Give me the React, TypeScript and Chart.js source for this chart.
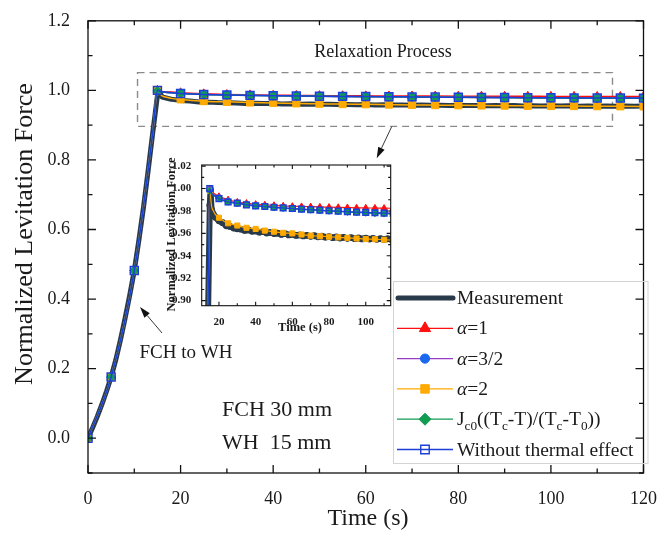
import React, { useEffect, useRef } from "react";
import { Chart, registerables } from "chart.js";

Chart.register(...registerables);

const SERIF = '"Liberation Serif", "Times New Roman", serif';

// ---------- data ----------
const MODEL_TIME = [0, 5, 10, 14, 15, 16, 17, 18, 20, 25, 30, 35, 40, 45, 50, 55, 60, 65, 70, 75, 80, 85, 90, 95, 100, 105, 110, 115, 120];
const ALPHA_1 = [0, 0.176, 0.482, 0.88, 1.0, 0.997, 0.996, 0.995, 0.993, 0.99, 0.988, 0.987, 0.986, 0.9855, 0.985, 0.9845, 0.9842, 0.984, 0.9838, 0.9836, 0.9834, 0.9832, 0.983, 0.9828, 0.9827, 0.9826, 0.9825, 0.9824, 0.9823];
const ALPHA_3_2 = [0, 0.176, 0.482, 0.88, 0.999, 0.996, 0.995, 0.994, 0.992, 0.989, 0.987, 0.986, 0.985, 0.984, 0.983, 0.9825, 0.982, 0.9815, 0.981, 0.9805, 0.98, 0.9797, 0.9793, 0.979, 0.9787, 0.9785, 0.9782, 0.978, 0.9778];
const ALPHA_2 = [0, 0.176, 0.482, 0.88, 0.998, 0.984, 0.98, 0.977, 0.974, 0.969, 0.967, 0.965, 0.964, 0.9625, 0.9615, 0.9605, 0.96, 0.959, 0.958, 0.9575, 0.957, 0.9565, 0.956, 0.9555, 0.955, 0.9548, 0.9543, 0.954, 0.9537];
const JC0_TEMP = [0, 0.176, 0.482, 0.88, 0.998, 0.995, 0.994, 0.993, 0.991, 0.988, 0.9865, 0.9855, 0.9845, 0.9838, 0.9832, 0.9826, 0.982, 0.9815, 0.981, 0.9805, 0.98, 0.9795, 0.979, 0.9786, 0.9782, 0.9778, 0.9775, 0.9772, 0.977];
const NO_THERMAL = [0, 0.176, 0.482, 0.88, 1.0, 0.996, 0.994, 0.993, 0.991, 0.988, 0.987, 0.9855, 0.9845, 0.984, 0.9833, 0.9827, 0.9822, 0.9817, 0.9812, 0.9807, 0.9802, 0.9798, 0.9794, 0.979, 0.9787, 0.9784, 0.9781, 0.9779, 0.9777];

const MEAS_TIME = [0, 1, 2, 3, 4, 5, 6, 7, 8, 9, 10, 11, 12, 13, 14, 15, 15.4, 16,
  18, 20, 22, 24, 26, 28, 30, 32, 34, 36, 38, 40, 42, 44, 46, 48, 50, 52, 54, 56, 58, 60,
  62, 64, 66, 68, 70, 72, 74, 76, 78, 80, 82, 84, 86, 88, 90, 92, 94, 96, 98, 100,
  102, 104, 106, 108, 110, 112, 114, 116, 118, 120];
const MEAS_VALUE = [0, 0.03, 0.062, 0.097, 0.135, 0.176, 0.225, 0.282, 0.344, 0.41, 0.482, 0.57, 0.665, 0.77, 0.88, 0.985, 0.999, 0.981,
  0.9745, 0.9712, 0.9695, 0.9668, 0.9662, 0.9648, 0.9641, 0.9638, 0.9626, 0.9631, 0.9619, 0.9622, 0.9611, 0.9615, 0.9603, 0.9609, 0.9598, 0.9602, 0.9591, 0.9597, 0.9586, 0.9591,
  0.9582, 0.9586, 0.9577, 0.9583, 0.9574, 0.9579, 0.9569, 0.9575, 0.9566, 0.9571, 0.9562, 0.9568, 0.9559, 0.9565, 0.9556, 0.9562, 0.9553, 0.9559, 0.9551, 0.9557,
  0.9549, 0.9555, 0.9547, 0.9553, 0.9546, 0.9552, 0.9545, 0.955, 0.9544, 0.9549];

const SERIES_LABELS = ["Measurement", "α=1", "α=3/2", "α=2", "J_{c0}((T_{c}-T)/(T_{c}-T_{0}))", "Without thermal effect"];

const MAIN_X_TICKS = [0, 20, 40, 60, 80, 100, 120];
const MAIN_X_MINOR = [10, 30, 50, 70, 90, 110];
const MAIN_Y_TICKS = [0, 0.2, 0.4, 0.6, 0.8, 1.0, 1.2];
const MAIN_Y_MINOR = [-0.1, 0.1, 0.3, 0.5, 0.7, 0.9, 1.1];
const INSET_X_TICKS = [20, 40, 60, 80, 100];
const INSET_X_MINOR = [30, 50, 70, 90, 110];
const INSET_Y_TICKS = [0.9, 0.92, 0.94, 0.96, 0.98, 1.0, 1.02];
const INSET_Y_MINOR = [0.91, 0.93, 0.95, 0.97, 0.99, 1.01];

// ---------- styling ----------
const C_MEAS = "#293a4b";
const C_RED = "#ff1010";
const C_PURPLE = "#9a3cc4";
const C_BLUEDOT = "#1a68f0";
const C_ORANGE = "#ffaa00";
const C_GREEN = "#119c52";
const C_BLUE = "#1c3fd8";

const stripMarkup = (s: string) => s.replace(/_\{([^}]*)\}/g, "$1");

function buildDatasets(inset: boolean) {
  const k = inset ? 0.72 : 1;
  const mr = (r: number) => (c: any) => (MODEL_TIME[c.dataIndex] % 5 === 0 ? r * k : 0);
  const pts = (vals: number[]) => MODEL_TIME.map((t, i) => ({ x: t, y: vals[i] }));
  const lw = inset ? 1.2 : 1.5;
  const common = { cubicInterpolationMode: "monotone" as const, borderWidth: lw, pointBorderWidth: 1 };
  return [
    {
      label: SERIES_LABELS[0],
      data: MEAS_TIME.map((t, i) => ({ x: t, y: MEAS_VALUE[i] })),
      borderColor: C_MEAS,
      backgroundColor: C_MEAS,
      borderWidth: inset ? 6 : 5,
      pointRadius: inset ? 3.4 : 0,
      pointBorderWidth: 0,
      pointBackgroundColor: C_MEAS,
      borderJoinStyle: "round" as const,
      borderCapStyle: "round" as const,
      order: 6,
    },
    {
      ...common,
      label: SERIES_LABELS[1],
      data: pts(ALPHA_1),
      borderColor: C_RED,
      pointStyle: "triangle",
      pointRadius: mr(5),
      pointBackgroundColor: C_RED,
      pointBorderColor: C_RED,
      order: 5,
    },
    {
      ...common,
      label: SERIES_LABELS[2],
      data: pts(ALPHA_3_2),
      borderColor: C_PURPLE,
      pointStyle: "circle",
      pointRadius: mr(4),
      pointBackgroundColor: C_BLUEDOT,
      pointBorderColor: C_BLUEDOT,
      order: 4,
    },
    {
      ...common,
      label: SERIES_LABELS[3],
      data: pts(ALPHA_2),
      borderColor: C_ORANGE,
      pointStyle: "rect",
      pointRadius: mr(5),
      pointBackgroundColor: C_ORANGE,
      pointBorderColor: C_ORANGE,
      order: 3,
    },
    {
      ...common,
      label: stripMarkup(SERIES_LABELS[4]),
      data: pts(JC0_TEMP),
      borderColor: C_GREEN,
      pointStyle: "rectRot",
      pointRadius: mr(4.6),
      pointBackgroundColor: C_GREEN,
      pointBorderColor: C_GREEN,
      order: 2,
    },
    {
      ...common,
      label: SERIES_LABELS[5],
      data: pts(NO_THERMAL),
      borderColor: C_BLUE,
      pointStyle: "rect",
      pointRadius: mr(5.6),
      pointBackgroundColor: "rgba(0,0,0,0)",
      pointBorderColor: C_BLUE,
      pointBorderWidth: 1.5,
      order: 1,
    },
  ];
}

type TickSpec = { xMajor: number[]; xMinor: number[]; yMajor: number[]; yMinor: number[]; majorLen: number; minorLen: number; lw: number };

function framePlugin(id: string, spec: TickSpec) {
  return {
    id,
    afterDatasetsDraw(chart: any) {
      const { ctx, chartArea: a, scales } = chart;
      const xs = scales.x;
      const ys = scales.y;
      ctx.save();
      ctx.strokeStyle = "#111";
      ctx.lineWidth = spec.lw;
      ctx.strokeRect(a.left, a.top, a.right - a.left, a.bottom - a.top);
      ctx.beginPath();
      const tx = (v: number, len: number) => {
        const p = xs.getPixelForValue(v);
        if (p < a.left - 0.5 || p > a.right + 0.5) return;
        ctx.moveTo(p, a.bottom);
        ctx.lineTo(p, a.bottom - len);
        ctx.moveTo(p, a.top);
        ctx.lineTo(p, a.top + len);
      };
      const ty = (v: number, len: number) => {
        const p = ys.getPixelForValue(v);
        if (p < a.top - 0.5 || p > a.bottom + 0.5) return;
        ctx.moveTo(a.left, p);
        ctx.lineTo(a.left + len, p);
        ctx.moveTo(a.right, p);
        ctx.lineTo(a.right - len, p);
      };
      spec.xMajor.forEach((v) => tx(v, spec.majorLen));
      spec.xMinor.forEach((v) => tx(v, spec.minorLen));
      spec.yMajor.forEach((v) => ty(v, spec.majorLen));
      spec.yMinor.forEach((v) => ty(v, spec.minorLen));
      ctx.stroke();
      ctx.restore();
    },
  };
}

function drawArrow(ctx: CanvasRenderingContext2D, x1: number, y1: number, x2: number, y2: number, hl: number, hw: number) {
  const ang = Math.atan2(y2 - y1, x2 - x1);
  const bx = x2 - Math.cos(ang) * hl;
  const by = y2 - Math.sin(ang) * hl;
  ctx.beginPath();
  ctx.moveTo(x1, y1);
  ctx.lineTo(bx, by);
  ctx.stroke();
  ctx.beginPath();
  ctx.moveTo(x2, y2);
  ctx.lineTo(bx + Math.sin(ang) * hw / 2, by - Math.cos(ang) * hw / 2);
  ctx.lineTo(bx - Math.sin(ang) * hw / 2, by + Math.cos(ang) * hw / 2);
  ctx.closePath();
  ctx.fill();
}

function drawRich(ctx: CanvasRenderingContext2D, text: string, x: number, y: number, size: number) {
  let i = 0;
  let cx = x;
  while (i < text.length) {
    if (text.startsWith("_{", i)) {
      const end = text.indexOf("}", i);
      const sub = text.slice(i + 2, end);
      ctx.font = `${size * 0.68}px ${SERIF}`;
      ctx.fillText(sub, cx, y + size * 0.3);
      cx += ctx.measureText(sub).width;
      i = end + 1;
    } else if (text[i] === "α") {
      ctx.font = `italic ${size}px ${SERIF}`;
      ctx.fillText("α", cx, y);
      cx += ctx.measureText("α").width;
      i++;
    } else {
      let j = i;
      while (j < text.length && !text.startsWith("_{", j) && text[j] !== "α") j++;
      const run = text.slice(i, j);
      ctx.font = `${size}px ${SERIF}`;
      ctx.fillText(run, cx, y);
      cx += ctx.measureText(run).width;
      i = j;
    }
  }
}

function drawMarker(ctx: CanvasRenderingContext2D, style: string, x: number, y: number, r: number, fill: string | null, stroke: string, lw: number) {
  ctx.beginPath();
  if (style === "triangle") {
    ctx.moveTo(x, y - r);
    ctx.lineTo(x + 0.866 * r, y + 0.5 * r);
    ctx.lineTo(x - 0.866 * r, y + 0.5 * r);
    ctx.closePath();
  } else if (style === "circle") {
    ctx.arc(x, y, r, 0, Math.PI * 2);
  } else if (style === "rect") {
    const s = r * Math.SQRT1_2;
    ctx.rect(x - s, y - s, 2 * s, 2 * s);
  } else if (style === "rectRot") {
    ctx.moveTo(x, y - r);
    ctx.lineTo(x + r, y);
    ctx.lineTo(x, y + r);
    ctx.lineTo(x - r, y);
    ctx.closePath();
  }
  if (fill) {
    ctx.fillStyle = fill;
    ctx.fill();
  }
  ctx.strokeStyle = stroke;
  ctx.lineWidth = lw;
  ctx.stroke();
}

const mainDecor = {
  id: "mainDecor",
  beforeDatasetsDraw(chart: any) {
    const { ctx, scales } = chart;
    const xs = scales.x;
    const ys = scales.y;
    // dashed box around relaxation region
    const l = xs.getPixelForValue(10.7);
    const r = xs.getPixelForValue(113.3);
    const t = ys.getPixelForValue(1.051);
    const b = ys.getPixelForValue(0.8966);
    ctx.save();
    ctx.strokeStyle = "#8a8a8a";
    ctx.lineWidth = 1.4;
    ctx.setLineDash([7, 5]);
    ctx.strokeRect(l, t, r - l, b - t);
    ctx.restore();
  },
  afterDraw(chart: any) {
    const { ctx } = chart;
    ctx.save();
    ctx.fillStyle = "#1a1a1a";
    // axis titles
    ctx.textAlign = "center";
    ctx.textBaseline = "middle";
    ctx.font = `24px ${SERIF}`;
    ctx.fillText("Time (s)", 368, 519);
    ctx.save();
    ctx.translate(25, 234);
    ctx.rotate(-Math.PI / 2);
    ctx.font = `26px ${SERIF}`;
    ctx.fillText("Normalized Levitation Force", 0, 0);
    ctx.restore();
    // annotations
    ctx.font = `18px ${SERIF}`;
    ctx.fillText("Relaxation Process", 383, 52);
    ctx.font = `19px ${SERIF}`;
    ctx.fillText("FCH to WH", 186, 353);
    ctx.textAlign = "left";
    ctx.font = `22px ${SERIF}`;
    ctx.fillText("FCH 30 mm", 222, 410);
    ctx.fillText("WH  15 mm", 222, 443);
    // arrows
    ctx.strokeStyle = "#222";
    ctx.fillStyle = "#111";
    ctx.lineWidth = 0.9;
    drawArrow(ctx, 391.7, 126.7, 376.7, 158.3, 11, 7);
    drawArrow(ctx, 162, 333, 140, 307, 11, 7);
    // legend box
    ctx.strokeStyle = "#d4d4d4";
    ctx.lineWidth = 1;
    ctx.strokeRect(393.5, 281.5, 254.5, 182);
    const rowY = [298, 328.3, 358.6, 388.9, 419.2, 449.5];
    const x0 = 397;
    const x1 = 453;
    const mx = 425;
    // Measurement
    ctx.strokeStyle = C_MEAS;
    ctx.lineWidth = 5;
    ctx.lineCap = "round";
    ctx.beginPath();
    ctx.moveTo(x0 + 1, rowY[0]);
    ctx.lineTo(x1, rowY[0]);
    ctx.stroke();
    ctx.lineCap = "butt";
    const rows: [string, string, string, string | null, string, number][] = [
      [C_RED, "triangle", C_RED, C_RED, C_RED, 6.5],
      [C_PURPLE, "circle", C_BLUEDOT, C_BLUEDOT, C_BLUEDOT, 4.6],
      [C_ORANGE, "rect", C_ORANGE, C_ORANGE, C_ORANGE, 6],
      [C_GREEN, "rectRot", C_GREEN, C_GREEN, C_GREEN, 6],
      [C_BLUE, "rect", C_BLUE, null, C_BLUE, 6],
    ];
    rows.forEach((row, i) => {
      const y = rowY[i + 1];
      ctx.strokeStyle = row[0];
      ctx.lineWidth = 1.3;
      ctx.beginPath();
      ctx.moveTo(x0, y);
      ctx.lineTo(x1, y);
      ctx.stroke();
      drawMarker(ctx, row[1], mx, y, row[5], row[3], row[4], i === 4 ? 1.4 : 1);
    });
    ctx.fillStyle = "#1a1a1a";
    ctx.textAlign = "left";
    ctx.textBaseline = "middle";
    SERIES_LABELS.forEach((lab, i) => drawRich(ctx, lab, 457, rowY[i] + 1, 19.5));
    ctx.restore();
  },
};

const insetDecor = {
  id: "insetDecor",
  afterDraw(chart: any) {
    const { ctx } = chart;
    ctx.save();
    ctx.fillStyle = "#1a1a1a";
    ctx.textAlign = "center";
    ctx.textBaseline = "middle";
    ctx.font = `bold 12.5px ${SERIF}`;
    ctx.fillText("Time (s)", 140, 178);
    ctx.translate(12, 84.5);
    ctx.rotate(-Math.PI / 2);
    ctx.fillText("Normalized Levitation Force", 0, 0);
    ctx.restore();
  },
};

function setTicks(list: number[]) {
  return (s: any) => {
    s.ticks = list.map((v) => ({ value: v }));
  };
}

export default function App() {
  const mainRef = useRef<HTMLCanvasElement | null>(null);
  const insetRef = useRef<HTMLCanvasElement | null>(null);

  useEffect(() => {
    if (!mainRef.current || !insetRef.current) return;
    const mainChart = new Chart(mainRef.current, {
      type: "line",
      data: { datasets: buildDatasets(false) as any },
      options: {
        responsive: false,
        animation: false,
        events: [],
        layout: { padding: { left: 0, top: 20, right: 15, bottom: 0 } },
        plugins: { legend: { display: false }, tooltip: { enabled: false } },
        scales: {
          x: {
            type: "linear",
            min: 0,
            max: 120,
            grid: { display: false },
            border: { display: false },
            afterBuildTicks: setTicks(MAIN_X_TICKS),
            afterFit: (s: any) => {
              s.height = 61;
            },
            ticks: { font: { family: SERIF, size: 18 }, color: "#1a1a1a", padding: 7, maxRotation: 0, autoSkip: false, callback: (v: any) => String(v) },
          },
          y: {
            type: "linear",
            min: -0.1,
            max: 1.2,
            grid: { display: false },
            border: { display: false },
            afterBuildTicks: setTicks(MAIN_Y_TICKS),
            afterFit: (s: any) => {
              s.width = 88;
            },
            ticks: { font: { family: SERIF, size: 18 }, color: "#1a1a1a", padding: 10, autoSkip: false, callback: (v: any) => Number(v).toFixed(1) },
          },
        },
      },
      plugins: [
        mainDecor,
        framePlugin("mainFrame", { xMajor: MAIN_X_TICKS, xMinor: MAIN_X_MINOR, yMajor: MAIN_Y_TICKS, yMinor: MAIN_Y_MINOR, majorLen: 8, minorLen: 4.5, lw: 1.3 }),
      ],
    });

    const insetChart = new Chart(insetRef.current, {
      type: "line",
      data: { datasets: buildDatasets(true) as any },
      options: {
        responsive: false,
        animation: false,
        events: [],
        layout: { padding: { left: 0, top: 15, right: 9.3, bottom: 0 } },
        plugins: { legend: { display: false }, tooltip: { enabled: false } },
        scales: {
          x: {
            type: "linear",
            min: 10.6,
            max: 113.6,
            grid: { display: false },
            border: { display: false },
            afterBuildTicks: setTicks(INSET_X_TICKS),
            afterFit: (s: any) => {
              s.height = 34.3;
            },
            ticks: { font: { family: SERIF, size: 11, weight: "bold" }, color: "#1a1a1a", padding: 2, maxRotation: 0, autoSkip: false, callback: (v: any) => String(v) },
          },
          y: {
            type: "linear",
            min: 0.8955,
            max: 1.021,
            grid: { display: false },
            border: { display: false },
            afterBuildTicks: setTicks(INSET_Y_TICKS),
            afterFit: (s: any) => {
              s.width = 41.7;
            },
            ticks: { font: { family: SERIF, size: 11, weight: "bold" }, color: "#1a1a1a", padding: 2.5, autoSkip: false, callback: (v: any) => Number(v).toFixed(2) },
          },
        },
      },
      plugins: [
        insetDecor,
        framePlugin("insetFrame", { xMajor: INSET_X_TICKS, xMinor: INSET_X_MINOR, yMajor: INSET_Y_TICKS, yMinor: INSET_Y_MINOR, majorLen: 4, minorLen: 2.5, lw: 1.1 }),
      ],
    });

    return () => {
      mainChart.destroy();
      insetChart.destroy();
    };
  }, []);

  return (
    <div style={{ position: "absolute", left: 0, top: 0, width: 664, height: 534, background: "#fff" }}>
      <canvas ref={mainRef} width={664} height={534} style={{ position: "absolute", left: 0, top: 0 }} />
      <canvas ref={insetRef} width={240} height={190} style={{ position: "absolute", left: 160, top: 150 }} />
    </div>
  );
}
